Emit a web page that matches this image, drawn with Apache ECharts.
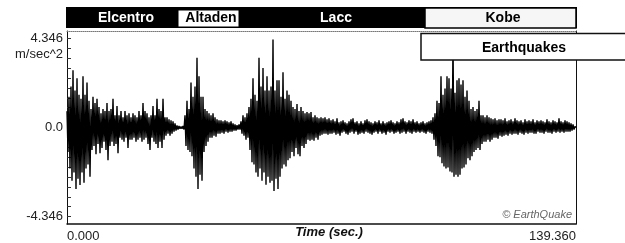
<!DOCTYPE html>
<html>
<head>
<meta charset="utf-8">
<script src="https://cdn.jsdelivr.net/npm/echarts@6/dist/echarts.min.js"></script>
<style>
  html, body { margin: 0; padding: 0; background: #fff; }
  #chart { width: 625px; height: 243px; }
</style>
</head>
<body>
<div id="chart"></div>
<script>
// record length and full scale
const duration = 139.36;
const fullScale = 4.346;
const quakeNames = ["Elcentro", "Altaden", "Lacc", "Kobe"];
const yLabelValues = [-4.346, 0, 4.346];
const xLabelValues = [0, 139.36];

// acceleration samples (m/sec^2), one every duration/509 sec
const elcentro = [
  0.8, -1.2, 1.5, -2.0,
  2.0, -2.6, 2.8, -2.2, 1.8, -3.0, 2.4, -2.5, 1.6, -2.8,
  1.4, -2.2, 2.5, -2.7, 1.6, -2.0, 2.2, -1.8, 1.3, -2.4,
  0.9, -1.1, 1.5, -0.9, 1.2, -1.3, 1.4, -0.8, 1.0, -1.25,
  0.7, -1.0, 0.9, -0.7, 0.8, -1.1, 1.2, -1.6, 0.8, -0.9,
  0.9, -0.7, 1.4, -0.9, 0.6, -0.8, 1.05, -1.25, 0.6, -0.5,
  0.8, -0.6, 0.5, -0.7, 0.8, -0.5, 0.6, -1.0, 0.7, -0.6,
  0.5, -0.6, 0.7, -0.5, 0.6, -0.7, 0.5, -0.6, 0.8, -0.5,
  0.6, -0.7, 1.2, -0.6, 0.8, -0.5, 0.7, -0.8, 0.5, -1.1,
  0.6, -0.5, 1.05, -0.7, 0.6, -0.8, 1.4, -1.0, 0.9, -0.7,
  0.8, -1.0, 1.4, -0.6, 0.5, -0.4, 0.5, -0.3, 0.4, -0.4,
  0.35, -0.3, 0.3, -0.2, 0.2, -0.15, 0.1, -0.1, 0.08, -0.06,
  0.05, -0.06, 0.08, -0.1
];
const altaden = [
  0.6, -0.9, 1.3, -1.1, 0.9, -1.2,
  2.2, -1.4, 1.5, -2.0, 2.0, -2.4, 3.4, -3.0, 2.5, -2.3,
  1.5, -2.6, 1.5, -1.2, 0.9, -0.9, 0.8, -0.7, 0.7, -0.5,
  0.6, -0.5, 0.7, -0.4, 0.5, -0.45, 0.4, -0.3, 0.35, -0.3,
  0.35, -0.25, 0.3, -0.3, 0.35, -0.2, 0.3, -0.25, 0.25, -0.2,
  0.3, -0.2, 0.2, -0.15, 0.15, -0.15, 0.12, -0.1, 0.15, -0.1
];
const lacc = [
  0.3, -0.3, 0.6, -0.4, 0.5, -0.6, 0.7, -0.5, 1.0, -1.1,
  1.4, -1.7, 2.4, -1.8, 1.6, -2.2, 1.3, -2.4, 3.4, -2.0,
  2.0, -2.6, 2.9, -2.2, 1.8, -2.8, 2.5, -2.4, 1.8, -2.7,
  2.0, -2.6, 4.3, -3.1, 1.8, -2.5, 2.3, -3.0, 2.3, -2.4,
  1.5, -2.0, 2.7, -1.8, 1.4, -1.9, 1.8, -1.6, 1.6, -1.5,
  1.3, -1.2, 1.0, -1.4, 0.9, -1.0, 1.15, -1.3, 0.8, -1.4,
  1.0, -0.9, 0.8, -1.0, 0.7, -0.8, 0.75, -0.6, 0.7, -0.65,
  0.75, -0.6, 0.5, -0.65, 0.6, -0.5, 0.5, -0.6, 0.45, -0.4,
  0.5, -0.35, 0.45, -0.3, 0.5, -0.3, 0.4, -0.35, 0.45, -0.3,
  0.35, -0.3, 0.4, -0.25, 0.3, -0.35, 0.45, -0.3, 0.25, -0.4,
  0.3, -0.25, 0.35, -0.2, 0.25, -0.3, 0.2, -0.35, 0.3, -0.25,
  0.4, -0.2, 0.45, -0.3, 0.25, -0.2, 0.3, -0.35, 0.2, -0.3,
  0.3, -0.25, 0.2, -0.3, 0.35, -0.2, 0.4, -0.25, 0.3, -0.3,
  0.25, -0.35, 0.2, -0.25, 0.3, -0.2, 0.25, -0.3, 0.35, -0.2,
  0.2, -0.3, 0.3, -0.25, 0.2, -0.35, 0.25, -0.2, 0.3, -0.25,
  0.35, -0.2, 0.25, -0.3, 0.2, -0.25, 0.3, -0.2, 0.25, -0.3,
  0.4, -0.25, 0.45, -0.2, 0.3, -0.3, 0.25, -0.2, 0.35, -0.25,
  0.3, -0.3, 0.4, -0.2, 0.25, -0.25, 0.3, -0.2, 0.2, -0.25,
  0.25, -0.2, 0.3, -0.25, 0.2, -0.3, 0.25, -0.2, 0.3, -0.25, 0.35, -0.3
];
const kobe = [
  0.5, -0.6, 0.7, -0.9, 1.3, -1.4, 1.2, -1.45,
  2.5, -1.75, 1.6, -1.9, 1.9, -2.0, 2.5, -1.95, 2.4, -2.15,
  1.9, -2.2, 4.3, -2.4, 1.7, -2.3, 2.3, -2.4, 2.4, -2.3,
  2.1, -2.0, 2.3, -1.95, 1.5, -1.8, 1.8, -1.5, 1.3, -1.6,
  0.9, -1.4, 1.0, -1.2, 0.8, -1.1, 0.9, -1.0, 1.3, -1.1,
  0.6, -0.8, 0.6, -0.7, 0.5, -0.7, 0.6, -0.6, 0.5, -0.7,
  0.45, -0.6, 0.4, -0.5, 0.45, -0.5, 0.35, -0.55, 0.4, -0.4,
  0.4, -0.45, 0.35, -0.4, 0.45, -0.35, 0.3, -0.4, 0.35, -0.3,
  0.4, -0.35, 0.3, -0.3, 0.45, -0.3, 0.35, -0.35, 0.3, -0.25,
  0.35, -0.3, 0.25, -0.35, 0.4, -0.25, 0.3, -0.3, 0.35, -0.25,
  0.3, -0.25, 0.4, -0.3, 0.25, -0.3, 0.35, -0.2, 0.3, -0.25,
  0.35, -0.25, 0.3, -0.3, 0.25, -0.2, 0.4, -0.25, 0.3, -0.25,
  0.25, -0.3, 0.35, -0.2, 0.3, -0.25, 0.25, -0.2, 0.45, -0.25,
  0.3, -0.2, 0.25, -0.25, 0.35, -0.2, 0.3, -0.2, 0.25, -0.2,
  0.2, -0.15, 0.15, -0.1, 0.05, 0
];

const accel = elcentro.concat(altaden, lacc, kobe);
const step = duration / (accel.length - 1);
const points = accel.map((v, i) => [i * step, v]);

// small ticks on the left axis, nine per half
const yTicks = [];
for (let k = -9; k <= 9; k++) yTicks.push(k * fullScale / 9);

const font = "Liberation Sans";
const chart = echarts.init(document.getElementById("chart"));

const option = {
  animation: false,
  backgroundColor: "#fff",
  grid: { left: 67, right: 49, top: 31, bottom: 19, outerBoundsMode: "none" },
  xAxis: [
    {
      type: "value",
      min: 0,
      max: duration,
      position: "bottom",
      axisLine: { onZero: false, lineStyle: { color: "#111", width: 1.5 } },
      axisTick: { show: false },
      splitLine: { show: false },
      axisLabel: {
        customValues: xLabelValues,
        formatter: (v) => v.toFixed(3),
        alignMinLabel: "left",
        alignMaxLabel: "right",
        margin: 6,
        color: "#222",
        fontFamily: font,
        fontSize: 13,
      },
      name: "Time (sec.)",
      nameLocation: "middle",
      nameGap: 2,
      nameMoveOverlap: false,
      nameTextStyle: {
        color: "#111",
        fontFamily: font,
        fontSize: 13,
        fontWeight: "bold",
        fontStyle: "italic",
        padding: [0, 0, 0, 15],
      },
    },
    {
      type: "value",
      min: 0,
      max: duration,
      position: "top",
      axisLine: { onZero: false, lineStyle: { color: "#777", width: 1, type: "dotted" } },
      axisTick: { show: false },
      axisLabel: { show: false },
      splitLine: { show: false },
    },
  ],
  yAxis: [
    {
      type: "value",
      min: -4.71,
      max: 4.71,
      axisLine: { show: true, onZero: false, lineStyle: { color: "#111", width: 1 } },
      axisTick: {
        show: true,
        inside: true,
        length: 4,
        customValues: yTicks,
        lineStyle: { color: "#333" },
      },
      splitLine: { show: false },
      axisLabel: {
        customValues: yLabelValues,
        formatter: (v) => (Math.abs(v) < 1e-9 ? "0.0" : v.toFixed(3)),
        margin: 4,
        color: "#222",
        fontFamily: font,
        fontSize: 13,
      },
    },
    {
      type: "value",
      min: -4.71,
      max: 4.71,
      position: "right",
      axisLine: { show: true, onZero: false, lineStyle: { color: "#111", width: 1 } },
      axisTick: { show: false },
      axisLabel: { show: false },
      splitLine: { show: false },
    },
  ],
  series: [
    {
      type: "line",
      data: points,
      showSymbol: false,
      lineStyle: { color: "#000", width: 1.4 },
      z: 2,
    },
  ],
  graphic: [
    // header bar with record names
    { type: "rect", z: 100, shape: { x: 66, y: 7, width: 511, height: 21 }, style: { fill: "#000" } },
    { type: "text", z: 101, x: 126, y: 18, style: { text: quakeNames[0], fill: "#fff", font: "bold 14px " + font, align: "center", verticalAlign: "middle" } },
    { type: "rect", z: 101, shape: { x: 178, y: 10, width: 61, height: 17 }, style: { fill: "#fff", stroke: "#000", lineWidth: 1 } },
    { type: "text", z: 102, x: 211, y: 18.5, style: { text: quakeNames[1], fill: "#000", font: "bold 14px " + font, align: "center", verticalAlign: "middle" } },
    { type: "text", z: 101, x: 336, y: 18, style: { text: quakeNames[2], fill: "#fff", font: "bold 14px " + font, align: "center", verticalAlign: "middle" } },
    { type: "rect", z: 101, shape: { x: 425, y: 8, width: 151, height: 20 }, style: { fill: "#f6f6f6", stroke: "#000", lineWidth: 1.5 } },
    { type: "text", z: 102, x: 503, y: 18.5, style: { text: quakeNames[3], fill: "#000", font: "bold 14px " + font, align: "center", verticalAlign: "middle" } },
    // title box
    { type: "rect", z: 100, shape: { x: 421, y: 33.5, width: 210, height: 26.5 }, style: { fill: "#fff", stroke: "#111", lineWidth: 1.5 } },
    { type: "text", z: 101, x: 524, y: 48, style: { text: "Earthquakes", fill: "#000", font: "bold 14px " + font, align: "center", verticalAlign: "middle" } },
    // unit under the top label
    { type: "text", z: 100, x: 63, y: 54, style: { text: "m/sec^2", fill: "#222", font: "13px " + font, align: "right", verticalAlign: "middle" } },
    // watermark
    { type: "text", z: 100, x: 572, y: 215, style: { text: "\u00a9 EarthQuake", fill: "#666", font: "italic 11px " + font, align: "right", verticalAlign: "middle" } },
  ],
};

chart.setOption(option);
</script>
</body>
</html>
